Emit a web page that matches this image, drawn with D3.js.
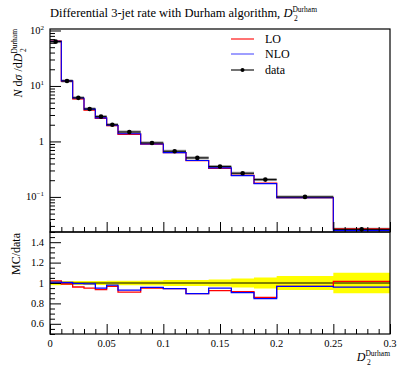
<!DOCTYPE html>
<html>
<head>
<meta charset="utf-8">
<script src="https://cdn.jsdelivr.net/npm/d3@7"></script>
<style>
  body { margin: 0; background: #fff; }
  svg { display: block; font-family: "Liberation Serif", "DejaVu Serif", serif; }
</style>
</head>
<body>
<svg id="chart" width="399" height="367"></svg>
<script>
// bin edges of the D2 Durham histogram
var edges = [0, 0.01, 0.02, 0.03, 0.04, 0.05, 0.06, 0.08, 0.1, 0.12, 0.14, 0.16, 0.18, 0.2, 0.25, 0.3];
// measured values and their errors
var dataVals = [63, 12.3, 6.1, 3.85, 2.8, 2.0, 1.48, 0.94, 0.665, 0.505, 0.352, 0.267, 0.205, 0.1, 0.026];
var dataErr = [1.4, 0.25, 0.12, 0.077, 0.056, 0.044, 0.033, 0.024, 0.019, 0.015, 0.012, 0.012, 0.011, 0.0068, 0.0026];
// MC predictions
var loVals = [64.3, 12.18, 5.86, 3.66, 2.62, 1.934, 1.347, 0.893, 0.628, 0.452, 0.3256, 0.2443, 0.1763, 0.0967, 0.02642];
var nloVals = [63.6, 12.36, 6.06, 3.82, 2.66, 1.96, 1.376, 0.900, 0.628, 0.452, 0.3344, 0.2416, 0.1734, 0.0967, 0.02496];
var xTickLabels = ["0", "0.05", "0.1", "0.15", "0.2", "0.25", "0.3"];
var ratioTickLabels = ["0.6", "0.8", "1", "1.2", "1.4"];

var L = 50, R = 390;
var mainTop = 29, mainBot = 232, ratTop = 232, ratBot = 334;

var svg = d3.select("#chart");

var x = d3.scaleLinear().domain([0, 0.3]).range([L, R]);
var y = d3.scaleLog().domain([0.0233, 106.4]).range([mainBot, mainTop]);
var yr = d3.scaleLinear().domain([0.5, 1.5]).range([ratBot, ratTop]);

var bins = edges.slice(0, -1).map(function (e, i) {
    return {
        x0: e, x1: edges[i + 1],
        d: dataVals[i], err: dataErr[i],
        lo: loVals[i], nlo: nloVals[i]
    };
});

function stepPath(yscale, acc) {
    var p = "";
    bins.forEach(function (b, i) {
        var yy = yscale(acc(b));
        p += (i === 0 ? "M" : "L") + x(b.x0) + "," + yy + "L" + x(b.x1) + "," + yy;
    });
    return p;
}

// D with stacked super "Durham" and sub "2"
function addD(t, size) {
    t.append("tspan").style("font-style", "italic").text("D");
    t.append("tspan").attr("dy", -5).style("font-size", "7.5px").text("Durham");
    t.append("tspan").attr("dx", -23).attr("dy", 8.5).style("font-size", "7.5px").text("2");
}

// clip paths
svg.append("clipPath").attr("id", "clipMain")
    .append("rect").attr("x", L).attr("y", mainTop).attr("width", R - L).attr("height", mainBot - mainTop);
svg.append("clipPath").attr("id", "clipRat")
    .append("rect").attr("x", L).attr("y", ratTop).attr("width", R - L).attr("height", ratBot - ratTop);

// ---------- main panel ----------
var main = svg.append("g").attr("clip-path", "url(#clipMain)");

// data x-bars (grey underlay + black line)
main.selectAll(".dbar").data(bins).enter().append("line")
    .attr("x1", function (d) { return x(d.x0); })
    .attr("x2", function (d) { return x(d.x1); })
    .attr("y1", function (d) { return y(d.d); })
    .attr("y2", function (d) { return y(d.d); })
    .style("stroke", "#999").style("stroke-width", 3);

main.append("path").attr("d", stepPath(y, function (b) { return b.lo; }))
    .style("fill", "none").style("stroke", "#ff0000").style("stroke-width", 1.3);
main.append("path").attr("d", stepPath(y, function (b) { return b.nlo; }))
    .style("fill", "none").style("stroke", "#0000ff").style("stroke-width", 1.1);

main.selectAll(".dline").data(bins).enter().append("line")
    .attr("x1", function (d) { return x(d.x0); })
    .attr("x2", function (d) { return x(d.x1); })
    .attr("y1", function (d) { return y(d.d); })
    .attr("y2", function (d) { return y(d.d); })
    .style("stroke", "#000").style("stroke-width", 1);
main.selectAll(".derr").data(bins).enter().append("line")
    .attr("x1", function (d) { return x((d.x0 + d.x1) / 2); })
    .attr("x2", function (d) { return x((d.x0 + d.x1) / 2); })
    .attr("y1", function (d) { return y(d.d - d.err); })
    .attr("y2", function (d) { return y(d.d + d.err); })
    .style("stroke", "#000").style("stroke-width", 1);
main.selectAll(".dot").data(bins).enter().append("circle")
    .attr("cx", function (d) { return x((d.x0 + d.x1) / 2); })
    .attr("cy", function (d) { return y(d.d); })
    .attr("r", 2.3)
    .style("fill", "#000");

// ---------- ratio panel ----------
var rat = svg.append("g").attr("clip-path", "url(#clipRat)");

var bandPts = [];
bins.forEach(function (b) {
    bandPts.push({ x: b.x0, e: b.err / b.d });
    bandPts.push({ x: b.x1, e: b.err / b.d });
});
rat.append("path").datum(bandPts)
    .attr("d", d3.area()
        .x(function (d) { return x(d.x); })
        .y0(function (d) { return yr(1 - d.e); })
        .y1(function (d) { return yr(1 + d.e); }))
    .style("fill", "#ffff00");

rat.append("line")
    .attr("x1", L).attr("x2", R).attr("y1", yr(1)).attr("y2", yr(1))
    .style("stroke", "#000").style("stroke-width", 1);

rat.append("path").attr("d", stepPath(yr, function (b) { return b.lo / b.d; }))
    .style("fill", "none").style("stroke", "#ff0000").style("stroke-width", 1.3);
rat.append("path").attr("d", stepPath(yr, function (b) { return b.nlo / b.d; }))
    .style("fill", "none").style("stroke", "#0000ff").style("stroke-width", 1.3);

// ---------- axes ----------
var xMajor = xTickLabels.map(Number);
var xMinor = d3.range(0, 0.3001, 0.01).filter(function (v) {
    return Math.abs(v / 0.05 - Math.round(v / 0.05)) > 1e-6;
});

function xTicks(yBase) {
    svg.append("g").attr("transform", "translate(0," + yBase + ")")
        .call(d3.axisBottom(x).tickValues(xMajor).tickSize(-10).tickFormat(""))
        .call(function (g) { g.select(".domain").remove(); });
    svg.append("g").attr("transform", "translate(0," + yBase + ")")
        .call(d3.axisBottom(x).tickValues(xMinor).tickSize(-5).tickFormat(""))
        .call(function (g) { g.select(".domain").remove(); });
}
xTicks(mainBot);
xTicks(ratBot);

// main y ticks
var yMajor = [0.1, 1, 10, 100];
var yMinor = y.ticks(40).filter(function (v) {
    var l = Math.log10(v);
    return Math.abs(l - Math.round(l)) > 1e-6;
});
svg.append("g").attr("transform", "translate(" + L + ",0)")
    .call(d3.axisLeft(y).tickValues(yMajor).tickSize(-11).tickFormat(""))
    .call(function (g) { g.select(".domain").remove(); });
svg.append("g").attr("transform", "translate(" + L + ",0)")
    .call(d3.axisLeft(y).tickValues(yMinor).tickSize(-5).tickFormat(""))
    .call(function (g) { g.select(".domain").remove(); });

// ratio y ticks
var rMajor = ratioTickLabels.map(Number);
var rMinor = d3.range(0.5, 1.5001, 0.05).filter(function (v) {
    return Math.abs(v / 0.2 - Math.round(v / 0.2)) > 1e-6;
});
svg.append("g").attr("transform", "translate(" + L + ",0)")
    .call(d3.axisLeft(yr).tickValues(rMajor).tickSize(-11).tickFormat(""))
    .call(function (g) { g.select(".domain").remove(); });
svg.append("g").attr("transform", "translate(" + L + ",0)")
    .call(d3.axisLeft(yr).tickValues(rMinor).tickSize(-5).tickFormat(""))
    .call(function (g) { g.select(".domain").remove(); });

svg.selectAll(".tick line").style("stroke", "#000").style("stroke-width", 1);

// frames
svg.append("rect").attr("x", L).attr("y", mainTop).attr("width", R - L).attr("height", mainBot - mainTop)
    .style("fill", "none").style("stroke", "#000").style("stroke-width", 1.2);
svg.append("rect").attr("x", L).attr("y", ratTop).attr("width", R - L).attr("height", ratBot - ratTop)
    .style("fill", "none").style("stroke", "#000").style("stroke-width", 1.2);

// tick labels
svg.selectAll(".xl").data(xTickLabels).enter().append("text")
    .attr("x", function (d) { return x(+d); })
    .attr("y", ratBot + 13)
    .attr("text-anchor", "middle")
    .style("font-size", "10.5px")
    .text(function (d) { return d; });

svg.selectAll(".rl").data(ratioTickLabels).enter().append("text")
    .attr("x", L - 6)
    .attr("y", function (d) { return yr(+d) + 3.5; })
    .attr("text-anchor", "end")
    .style("font-size", "10.5px")
    .text(function (d) { return d; });

var yLab = svg.selectAll(".yl").data(yMajor).enter().append("text")
    .attr("x", L - 6)
    .attr("y", function (d) { return y(d) + 3.5; })
    .attr("text-anchor", "end")
    .style("font-size", "10.5px");
yLab.each(function (d) {
    var t = d3.select(this);
    if (d === 1) { t.text("1"); return; }
    t.append("tspan").text("10");
    t.append("tspan").attr("dy", -4).style("font-size", "7px")
        .text(d === 100 ? "2" : d === 10 ? "1" : "\u22121");
});

// title
var title = svg.append("text").attr("x", L).attr("y", 17).style("font-size", "12.5px");
title.append("tspan").text("Differential 3-jet rate with Durham algorithm, ");
addD(title);

// x label
var xl = svg.append("text").attr("x", R).attr("y", 361).attr("text-anchor", "end").style("font-size", "12px");
addD(xl);

// y label main
var yl = svg.append("text")
    .attr("transform", "translate(22," + mainTop + ") rotate(-90)")
    .attr("text-anchor", "end")
    .style("font-size", "12px");
yl.append("tspan").style("font-style", "italic").text("N");
yl.append("tspan").text(" d");
yl.append("tspan").style("font-style", "italic").text("\u03c3");
yl.append("tspan").text(" /d");
addD(yl);

// ratio y label
svg.append("text")
    .attr("transform", "translate(20," + (ratTop + 1) + ") rotate(-90)")
    .attr("text-anchor", "end")
    .style("font-size", "12px")
    .text("MC/data");

// legend
var legend = [
    { name: "LO", color: "#ff0000", y: 39 },
    { name: "NLO", color: "#4f4fff", y: 54 },
    { name: "data", color: "#000", y: 70 }
];
var lg = svg.selectAll(".leg").data(legend).enter().append("g");
lg.append("line")
    .attr("x1", 231).attr("x2", 254)
    .attr("y1", function (d) { return d.y; }).attr("y2", function (d) { return d.y; })
    .style("stroke", function (d) { return d.color; }).style("stroke-width", 1.1);
lg.filter(function (d) { return d.name === "data"; }).append("circle")
    .attr("cx", 242.5).attr("cy", function (d) { return d.y; }).attr("r", 2)
    .style("fill", "#000");
lg.append("text")
    .attr("x", 265).attr("y", function (d) { return d.y + 4; })
    .style("font-size", "12px")
    .text(function (d) { return d.name; });
</script>
</body>
</html>
